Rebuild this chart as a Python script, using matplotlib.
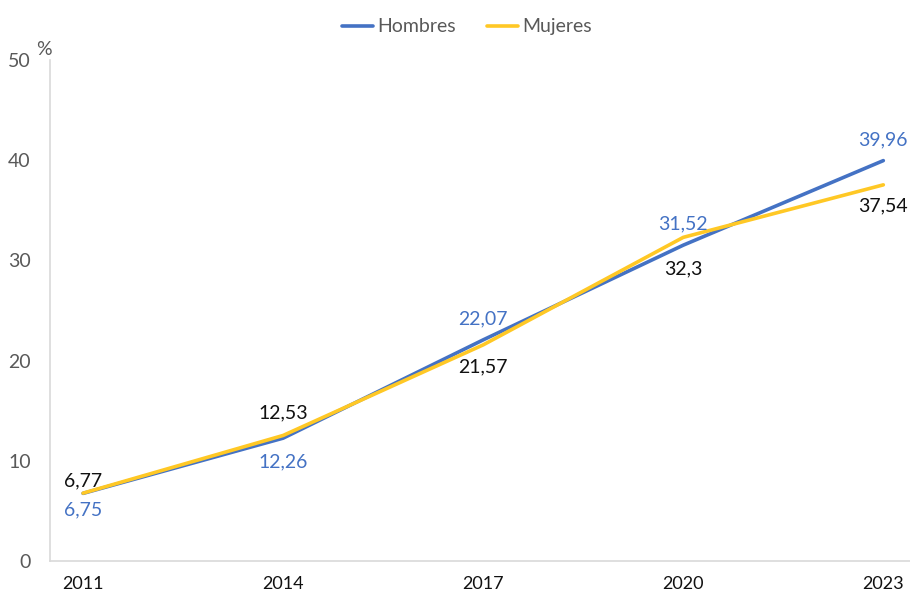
import matplotlib
matplotlib.use("Agg")
import matplotlib.pyplot as plt

plt.rcParams['font.family'] = ['Lato', 'DejaVu Sans']

years = [2011, 2014, 2017, 2020, 2023]
hombres = [6.75, 12.26, 22.07, 31.52, 39.96]
mujeres = [6.77, 12.53, 21.57, 32.3, 37.54]
hombres_lbl = ['6,75', '12,26', '22,07', '31,52', '39,96']
mujeres_lbl = ['6,77', '12,53', '21,57', '32,3', '37,54']

# vertical label offsets in points (positive = above)
hombres_off = [-12, -17, 15, 15, 15]
mujeres_off = [9, 16, -16, -23, -15]

blue = '#4472C4'
yellow = '#FFC825'
grey = '#D9D9D9'

fig = plt.figure(figsize=(9.1, 5.97), dpi=100)
ax = fig.add_axes([0.055, 0.0603, 0.945, 0.8392])

ax.plot(years, hombres, color=blue, lw=2.6, label='Hombres', solid_capstyle='round')
ax.plot(years, mujeres, color=yellow, lw=2.6, label='Mujeres', solid_capstyle='round')

for x, y, t, o in zip(years, hombres, hombres_lbl, hombres_off):
    ax.annotate(t, (x, y), xytext=(0, o), textcoords='offset points',
                ha='center', va='center', color=blue, fontsize=14)
for x, y, t, o in zip(years, mujeres, mujeres_lbl, mujeres_off):
    ax.annotate(t, (x, y), xytext=(0, o), textcoords='offset points',
                ha='center', va='center', color='#111111', fontsize=14)

ax.set_xlim(2010.505, 2023.4)
ax.set_ylim(0, 50)
ax.set_xticks(years)
ax.set_xticklabels([str(y) for y in years], color='#111111', fontsize=13)
ax.set_yticks(range(0, 51, 10))
ax.tick_params(axis='y', colors='#595959', labelsize=14, length=0, pad=14)
ax.tick_params(axis='x', length=0, pad=11)
for s in ['top', 'right']:
    ax.spines[s].set_visible(False)
for s in ['left', 'bottom']:
    ax.spines[s].set_color(grey)
    ax.spines[s].set_linewidth(1.2)

ax.text(-0.007, 1.003, '%', transform=ax.transAxes, fontsize=14, color='#595959',
        ha='center', va='bottom')

fig.legend(loc='center', bbox_to_anchor=(0.513, 0.955), ncol=2, frameon=False,
           fontsize=14, handlelength=1.6, handletextpad=0.2, columnspacing=1.6,
           labelcolor='#595959')

fig.savefig('out.png', dpi=100)
